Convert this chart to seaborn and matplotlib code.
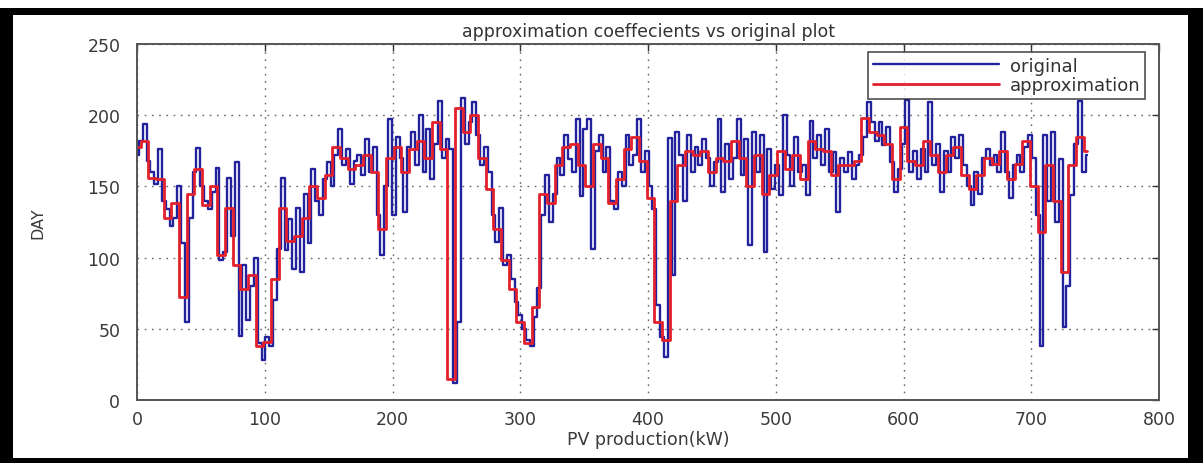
import numpy as np
import pandas as pd
import matplotlib
matplotlib.use("Agg")
import matplotlib.pyplot as plt
from matplotlib.patches import Rectangle
import seaborn as sns

# original series, sampled every 3 units along the x axis
original = [
    172, 182, 194, 168, 160, 152, 176, 140, 134, 122,
    128, 150, 110, 55, 128, 160, 177, 150, 140, 134,
    146, 163, 98, 104, 156, 115, 167, 45, 95, 56,
    80, 100, 40, 28, 44, 38, 70, 106, 156, 105,
    127, 92, 135, 90, 145, 110, 162, 140, 130, 155,
    167, 150, 172, 190, 165, 176, 152, 168, 172, 158,
    183, 160, 178, 130, 102, 150, 197, 130, 185, 170,
    132, 178, 188, 165, 200, 160, 190, 155, 180, 210,
    170, 183, 176, 12, 55, 212, 180, 195, 209, 186,
    165, 178, 160, 130, 111, 135, 95, 102, 85, 69,
    60, 50, 42, 38, 58, 79, 130, 158, 125, 145,
    170, 158, 186, 169, 160, 197, 143, 190, 197, 106,
    175, 186, 160, 178, 140, 134, 160, 150, 186, 165,
    172, 197, 160, 175, 150, 134, 67, 44, 30, 184,
    88, 188, 172, 140, 186, 160, 178, 165, 183, 170,
    150, 167, 197, 146, 180, 155, 170, 197, 158, 183,
    109, 188, 160, 186, 104, 176, 148, 165, 144, 200,
    172, 150, 185, 160, 165, 144, 196, 170, 186, 165,
    190, 160, 174, 132, 170, 160, 174, 155, 165, 172,
    185, 209, 195, 182, 195, 179, 192, 167, 146, 162,
    180, 211, 160, 175, 155, 176, 160, 209, 165, 180,
    146, 175, 160, 185, 170, 186, 165, 150, 137, 160,
    145, 170, 176, 165, 172, 160, 188, 160, 142, 165,
    172, 160, 178, 186, 170, 130, 38, 186, 140, 188,
    125, 169, 51, 80, 144, 180, 210, 160, 172,
]

# approximation series, sampled every 6 units
approximation = [
    178, 182, 156, 155, 128, 138, 72, 145, 162, 137,
    150, 102, 135, 95, 78, 88, 38, 41, 85, 135,
    112, 115, 128, 150, 142, 158, 178, 170, 162, 165,
    172, 160, 120, 170, 178, 160, 176, 182, 170, 195,
    176, 15, 205, 188, 200, 170, 148, 120, 98, 78,
    55, 40, 65, 145, 138, 165, 178, 180, 165, 150,
    180, 170, 138, 155, 176, 185, 168, 142, 55, 42,
    140, 165, 175, 172, 175, 160, 170, 168, 182, 170,
    150, 172, 145, 158, 175, 162, 172, 155, 182, 176,
    175, 158, 165, 165, 168, 198, 188, 186, 180, 155,
    192, 168, 165, 182, 172, 160, 172, 178, 158, 148,
    158, 170, 166, 175, 155, 166, 182, 150, 118, 165,
    140, 90, 165, 185, 175,
]

x_ticks = [0, 100, 200, 300, 400, 500, 600, 700, 800]
y_ticks = [0, 50, 100, 150, 200, 250]

orig_df = pd.DataFrame({"x": np.arange(len(original)) * 3, "y": original})
approx_df = pd.DataFrame({"x": np.arange(len(approximation)) * 6, "y": approximation})

sns.set_theme(style="white")
plt.rcParams["font.family"] = ["DejaVu Sans"]

W, H = 1203, 464
fig = plt.figure(figsize=(W / 100, H / 100), dpi=100)
fig.patch.set_facecolor("white")

# black frame around the chart
fig.add_artist(Rectangle((0, 0), 1, (H - 9) / H, transform=fig.transFigure,
                         facecolor="black", edgecolor="none", zorder=-2))
fig.add_artist(Rectangle((13 / W, 5 / H), (1188 - 13) / W, (H - 16 - 5) / H,
                         transform=fig.transFigure, facecolor="white",
                         edgecolor="none", zorder=-1))

ax = fig.add_axes([137 / W, (H - 401) / H, (1159 - 137) / W, (401 - 45) / H])
ax.set_facecolor("white")

sns.lineplot(data=orig_df, x="x", y="y", ax=ax, color="#22229c", lw=1.7,
             drawstyle="steps-mid", estimator=None, sort=False,
             label="original")
sns.lineplot(data=approx_df, x="x", y="y", ax=ax, color="#e3202b", lw=2.0,
             drawstyle="steps-mid", estimator=None, sort=False,
             label="approximation")

ax.set_xlim(0, 800)
ax.set_ylim(0, 250)
ax.set_xticks(x_ticks)
ax.set_yticks(y_ticks)
ax.set_xticklabels([str(v) for v in x_ticks])
ax.set_yticklabels([str(v) for v in y_ticks])
ax.tick_params(direction="in", length=5, width=1, colors="#333333",
               labelsize=12.5, top=True, right=True, pad=7)
ax.tick_params(axis="x", labelcolor="#3a3a3a")
ax.tick_params(axis="y", labelcolor="#3a3a3a", pad=12)

ax.grid(True, linestyle=(0, (1.2, 4)), color="#666666", lw=1.0)
for side in ax.spines.values():
    side.set_visible(True)
    side.set_color("#555555")
    side.set_linewidth(1.4)

ax.set_title("approximation coeffecients vs original plot", fontsize=12.5,
             color="#333333", pad=6)
ax.set_xlabel("PV production(kW)", fontsize=12.5, color="#3a3a3a", labelpad=2)
ax.set_ylabel("DAY", fontsize=11.5, color="#3a3a3a", labelpad=30)

leg = ax.legend(loc="upper right", bbox_to_anchor=((1145 - 137) / 1022, (401 - 53) / 356),
                borderaxespad=0, fancybox=False, frameon=True, fontsize=13,
                handlelength=7.0, handletextpad=0.6, borderpad=0.25,
                labelspacing=0.1)
leg.get_frame().set_edgecolor("#222222")
leg.get_frame().set_linewidth(1.2)
for t in leg.get_texts():
    t.set_color("#333333")

fig.savefig("out.png", dpi=100, facecolor="white")
